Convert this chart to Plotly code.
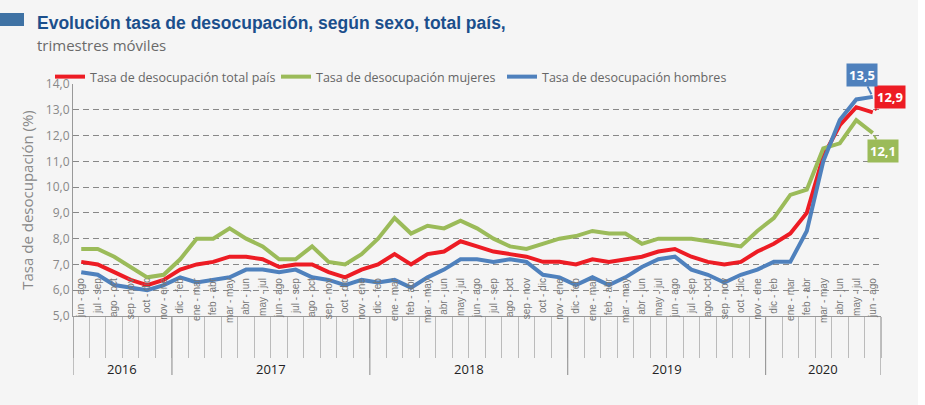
import plotly.graph_objects as go

years = ["2016"] * 6 + ["2017"] * 12 + ["2018"] * 12 + ["2019"] * 12 + ["2020"] * 7
cycle = ["dic - feb", "ene - mar", "feb - abr", "mar - may", "abr - jun", "may - jul",
         "jun - ago", "jul - sep", "ago - oct", "sep - nov", "oct - dic", "nov - ene"]
periods = cycle[6:] + cycle * 3 + cycle[:7]

total = [7.1, 7.0, 6.7, 6.4, 6.2, 6.4,
         6.8, 7.0, 7.1, 7.3, 7.3, 7.2, 6.9, 7.0, 7.0, 6.7, 6.5, 6.8,
         7.0, 7.4, 7.0, 7.4, 7.5, 7.9, 7.7, 7.5, 7.4, 7.3, 7.1, 7.1,
         7.0, 7.2, 7.1, 7.2, 7.3, 7.5, 7.6, 7.3, 7.1, 7.0, 7.1, 7.5,
         7.8, 8.2, 9.0, 11.2, 12.4, 13.1, 12.9]
mujeres = [7.6, 7.6, 7.3, 6.9, 6.5, 6.6,
           7.2, 8.0, 8.0, 8.4, 8.0, 7.7, 7.2, 7.2, 7.7, 7.1, 7.0, 7.4,
           8.0, 8.8, 8.2, 8.5, 8.4, 8.7, 8.4, 8.0, 7.7, 7.6, 7.8, 8.0,
           8.1, 8.3, 8.2, 8.2, 7.8, 8.0, 8.0, 8.0, 7.9, 7.8, 7.7, 8.3,
           8.8, 9.7, 9.9, 11.5, 11.7, 12.6, 12.1]
hombres = [6.7, 6.6, 6.2, 6.1, 6.0, 6.2,
           6.5, 6.3, 6.4, 6.5, 6.8, 6.8, 6.7, 6.8, 6.5, 6.4, 6.2, 6.4,
           6.3, 6.4, 6.1, 6.5, 6.8, 7.2, 7.2, 7.1, 7.2, 7.1, 6.6, 6.5,
           6.2, 6.5, 6.2, 6.5, 6.9, 7.2, 7.3, 6.8, 6.6, 6.3, 6.6, 6.8,
           7.1, 7.1, 8.3, 11.0, 12.6, 13.4, 13.5]

series_names = ["Tasa de desocupación total país", "Tasa de desocupación mujeres",
                "Tasa de desocupación hombres"]
colors = ["#ED1C24", "#9BBB59", "#4F81BD"]

keys = [f"{y} {p}" for y, p in zip(years, periods)]

SANS = "Liberation Sans, Arial, sans-serif"
BG = "#F5F5F5"

fig = go.Figure()
for name, vals, col in zip(series_names, [total, mujeres, hombres], colors):
    fig.add_trace(go.Scatter(x=keys, y=vals, mode="lines", name=name,
                             line=dict(color=col, width=4)))

# plot geometry (px)
L, R, T, B = 73, 44, 84, 89
W, H = 925, 405
pw, ph = W - L - R, H - T - B

def py(px_from_top):
    return 1 + (T - px_from_top) / ph

def pxx(px):
    return (px - L) / pw

shapes = []
annotations = []

# year groups: dividers and labels
uniq = []
for y in years:
    if y not in uniq:
        uniq.append(y)
start = 0
bounds = [-0.5]
for y in uniq:
    n = years.count(y)
    annotations.append(dict(x=start + (n - 1) / 2, y=py(369), xref="x", yref="paper",
                            text=y, showarrow=False, yanchor="middle",
                            font=dict(family="Open Sans", size=13, color="#222")))
    start += n
    bounds.append(start - 0.5)
for b in bounds:
    shapes.append(dict(type="line", xref="x", yref="paper", x0=b, x1=b, y0=0, y1=py(375),
                       line=dict(color="#9a9a9a", width=1.2)))

# end-of-series labels
label_offsets = [(17, -15), (10, 18), (-11, -22)]
for vals, col, (ax, ay) in zip([total, mujeres, hombres], colors, label_offsets):
    annotations.append(dict(x=keys[-1], y=vals[-1], xref="x", yref="y",
                            text=f"<b>{vals[-1]:.1f}</b>".replace(".", ","),
                            showarrow=True, arrowhead=0, arrowwidth=2, arrowcolor=col,
                            ax=ax, ay=ay, standoff=3, bgcolor=col, borderpad=2,
                            font=dict(family="Open Sans", size=13, color="white")))

# title block
shapes.append(dict(type="rect", xref="paper", yref="paper", x0=pxx(0), x1=pxx(24),
                   y0=py(26), y1=py(13), fillcolor="#3F72A4", line=dict(width=0)))
annotations.append(dict(x=pxx(35), y=py(23), xref="paper", yref="paper",
                        xanchor="left", yanchor="middle", showarrow=False,
                        text="<b>Evolución tasa de desocupación, según sexo, total país,</b>",
                        font=dict(family=SANS, size=17.5, color="#1B4F8C")))
annotations.append(dict(x=pxx(35), y=py(45), xref="paper", yref="paper",
                        xanchor="left", yanchor="middle", showarrow=False,
                        text="trimestres móviles",
                        font=dict(family="Open Sans", size=15, color="#6A6A6A")))
# white strip at right edge
shapes.append(dict(type="rect", xref="paper", yref="paper", x0=pxx(918), x1=pxx(940),
                   y0=-1, y1=2, fillcolor="white", line=dict(width=0), layer="below"))

fig.update_layout(
    width=W, height=H,
    margin=dict(l=L, r=R, t=T, b=B, autoexpand=False),
    paper_bgcolor=BG, plot_bgcolor=BG,
    separators=",.",
    showlegend=True,
    legend=dict(orientation="h", x=pxx(50), y=py(62), xanchor="left", yanchor="top",
                font=dict(family="Open Sans", size=12.5, color="#666"),
                entrywidth=181, entrywidthmode="pixels", bgcolor="rgba(0,0,0,0)",
                itemwidth=30),
    shapes=shapes, annotations=annotations,
    xaxis=dict(type="category", categoryorder="array", categoryarray=keys,
               tickmode="array", tickvals=keys, ticktext=periods,
               tickangle=-90, tickson="boundaries", ticks="outside", ticklen=41,
               tickcolor="#BBBBBB", tickwidth=1, ticklabelstandoff=-43,
               tickfont=dict(family=SANS, size=10, color="#777"),
               showline=True, linecolor="#999", linewidth=1.2, showgrid=False,
               automargin=False,
               range=[-0.5, len(keys) - 0.5], fixedrange=True),
    yaxis=dict(range=[5, 14], dtick=1, tickformat=".1f",
               showgrid=True, gridcolor="#888", gridwidth=1, griddash="6px,4px",
               showline=True, linecolor="#999", linewidth=1.2, zeroline=False,
               automargin=False,
               tickfont=dict(family="Open Sans", size=12, color="#888"),
               title=dict(text="Tasa de desocupación (%)", standoff=8,
                          font=dict(family="Open Sans", size=15, color="#888"))),
)

fig.write_html("out.html", config={"displayModeBar": False},
               post_script="document.body.style.margin='0';"
                           "document.body.style.background='" + BG + "';")
